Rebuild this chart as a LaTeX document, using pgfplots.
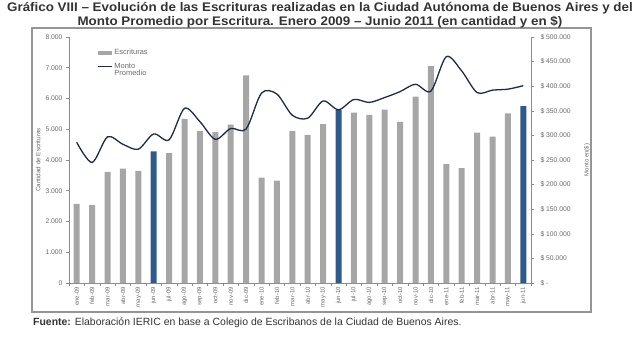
\documentclass[border=0pt]{standalone}
\usepackage{pgfplots}
\pgfplotsset{compat=1.18}
\usepackage{fontspec}
\setmainfont{Liberation Sans}
\definecolor{barg}{HTML}{A6A6A6}
\definecolor{barb}{HTML}{2E5A8C}
\definecolor{linec}{HTML}{1F2A47}
\definecolor{tickc}{HTML}{6A6A6A}
\definecolor{axc}{HTML}{8C8C8C}
\definecolor{framec}{HTML}{959595}
\begin{document}
\begin{tikzpicture}[x=1bp,y=1bp]
\useasboundingbox (0,0) rectangle (640,338);
\node[draw=framec, line width=1.2bp, minimum width=559bp, minimum height=284bp, inner sep=0pt, outer sep=0pt, anchor=south west] at (32,26) {};
\node[font=\bfseries\fontsize{12.5}{14}\selectfont, text=black!80, inner sep=0pt] at (320,330) {\scalebox{1.075}[1]{Gráfico VIII – Evolución de las Escrituras realizadas en la Ciudad Autónoma de Buenos Aires y del}};
\node[font=\bfseries\fontsize{12.5}{14}\selectfont, text=black!80, inner sep=0pt] at (320,316) {\scalebox{1.075}[1]{Monto Promedio por Escritura. Enero 2009 – Junio 2011 (en cantidad y en \$)}};
\node[anchor=west, font=\fontsize{10.5}{12}\selectfont, text=black!80, inner sep=0pt] at (33,15) {\textbf{Fuente:} Elaboración IERIC en base a Colegio de Escribanos de la Ciudad de Buenos Aires.};

\begin{axis}[
  at={(69bp,55bp)}, anchor=south west,
  scale only axis, width=462bp, height=246bp,
  xmin=-0.5, xmax=29.5, ymin=0, ymax=8000,
  axis x line*=bottom, axis y line*=left,
  axis line style={axc, line width=1bp},
  tick style={axc, line width=0.6bp},
  tick align=outside, major tick length=3bp, minor tick length=3bp,
  xtick={0,...,29},
  xticklabels={ene-09,feb-09,mar-09,abr-09,may-09,jun-09,jul-09,ago-09,sep-09,oct-09,nov-09,dic-09,ene-10,feb-10,mar-10,abr-10,may-10,jun-10,jul-10,ago-10,sep-10,oct-10,nov-10,dic-10,ene-11,feb-11,mar-11,abr-11,may-11,jun-11},
  major x tick style={draw=none},
  minor xtick={-0.5,0.5,...,29.5},
  x tick label style={rotate=90, anchor=east, font=\fontsize{6}{7}\selectfont, text=tickc, inner sep=1bp},
  ytick={0,1000,...,8000},
  yticklabels={0,1.000,2.000,3.000,4.000,5.000,6.000,7.000,8.000},
  y tick label style={font=\fontsize{6.8}{8}\selectfont, text=tickc},
  ylabel={Cantidad de Escrituras},
  y label style={at={(axis description cs:-0.067,0.5)}, anchor=center, font=\fontsize{6.3}{7}\selectfont, text=tickc},
  legend style={at={(axis description cs:0.054,0.968)}, anchor=north west, draw=none, fill=none, font=\fontsize{7.5}{8.5}\selectfont, text=tickc, row sep=3bp},
  legend cell align=left,
]
\addplot[ybar, bar width=6bp, bar shift=0pt, fill=barg, draw=none,
  legend image code/.code={\fill[barg] (0bp,-2bp) rectangle (14bp,2bp);}]
  coordinates {(0,2570) (1,2530) (2,3610) (3,3720) (4,3650) (6,4220) (7,5340) (8,4940) (9,4910) (10,5150) (11,6750) (12,3430) (13,3330) (14,4940) (15,4820) (16,5170) (18,5540) (19,5470) (20,5640) (21,5240) (22,6060) (23,7050) (24,3870) (25,3740) (26,4890) (27,4760) (28,5520)};
\addlegendentry{Escrituras}
\addplot[ybar, bar width=6bp, bar shift=0pt, fill=barb, draw=none, forget plot]
  coordinates {(5,4280) (17,5620) (29,5750)};
\addlegendimage{legend image code/.code={\draw[linec, line width=1.3bp] (0bp,0bp) -- (14bp,0bp);}}
\addlegendentry{\begin{tabular}[t]{@{}l@{}}Monto\\[-1.5bp]Promedio\end{tabular}}
\end{axis}

\begin{axis}[
  at={(69bp,55bp)}, anchor=south west,
  scale only axis, width=462bp, height=246bp,
  xmin=-0.5, xmax=29.5, ymin=0, ymax=500000,
  axis x line=none, axis y line*=right,
  axis line style={axc, line width=1bp},
  tick style={axc, line width=0.6bp},
  tick align=outside, major tick length=3bp,
  scaled y ticks=false,
  ytick={0,50000,...,500000},
  yticklabels={\$ -,\$ 50.000,\$ 100.000,\$ 150.000,\$ 200.000,\$ 250.000,\$ 300.000,\$ 350.000,\$ 400.000,\$ 450.000,\$ 500.000},
  y tick label style={font=\fontsize{6.8}{8}\selectfont, text=tickc, anchor=west, xshift=3bp},
  ylabel={Monto en(\$)},
  y label style={at={(axis description cs:1.121,0.5)}, anchor=center, font=\fontsize{6}{7}\selectfont, text=tickc},
]
\addplot[linec, line width=1.3bp, smooth, mark=none] coordinates {
(0,286000) (1,245000) (2,297000) (3,282000) (4,272000) (5,303000) (6,291000) (7,355000) (8,328000) (9,292000)
(10,314000) (11,313000) (12,386000) (13,384000) (14,341000) (15,335000) (16,370000) (17,352000) (18,373000) (19,367000)
(20,377000) (21,389000) (22,404000) (23,390000) (24,460000) (25,431000) (26,387000) (27,392000) (28,394000) (29,401000)};
\end{axis}
\end{tikzpicture}
\end{document}
